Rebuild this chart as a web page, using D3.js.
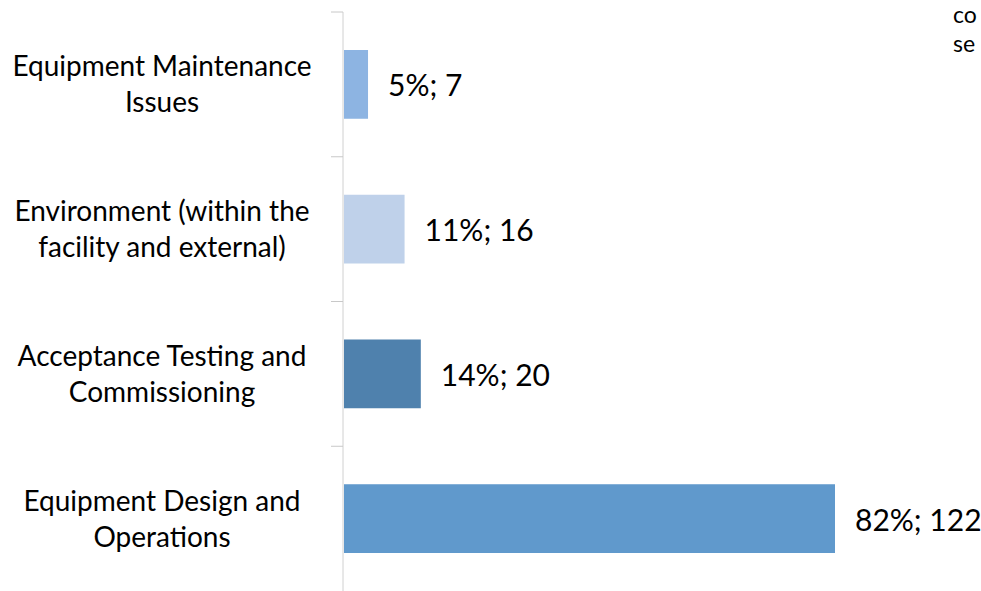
<!DOCTYPE html>
<meta charset="utf-8">
<html>
<head>
<script src="https://cdn.jsdelivr.net/npm/d3@7"></script>
<style>
body { margin:0; background:#fff; }
text { font-family: Lato, 'Open Sans', sans-serif; fill:#000; }
.cat { font-size:28px; }
.val { font-size:30px; }
.corner { font-size:23px; }
</style>
</head>
<body>
<div id="my_dataviz"></div>
<script>

// data
var categories = ["Equipment Maintenance|Issues",
                  "Environment (within the|facility and external)",
                  "Acceptance Testing and|Commissioning",
                  "Equipment Design and|Operations"];
var counts   = [7, 16, 20, 122];
var percents = [5, 11, 14, 82];
var colors   = ["#8DB4E2", "#BFD1EA", "#4F81AD", "#6099CC"];
var corner   = ["co", "se"];

var width = 981, height = 591;
var axisX = 343;

var svg = d3.select("#my_dataviz")
    .append("svg")
    .attr("width", width)
    .attr("height", height);

// y bands, one per category
var y = d3.scaleBand()
    .domain(categories)
    .range([12, 591])
    .paddingInner(0.525)
    .paddingOuter(0.2625);

// x scale (zero sits a little left of the axis line)
var x = d3.scaleLinear()
    .domain([0, 122])
    .range([339.6, 835]);

// bars
svg.selectAll("rect.bar")
    .data(counts)
    .enter()
    .append("rect")
    .attr("class", "bar")
    .attr("x", axisX + 1)
    .attr("y", function(d, i) { return y(categories[i]); })
    .attr("width", function(d) { return x(d) - axisX - 1; })
    .attr("height", y.bandwidth())
    .attr("fill", function(d, i) { return colors[i]; });

// axis line and category separator ticks
var step = y.step();
var ticks = d3.range(categories.length).map(function(i) { return 12 + i * step; });
svg.append("line")
    .attr("x1", axisX).attr("x2", axisX)
    .attr("y1", 12).attr("y2", 591)
    .attr("stroke", "#d0d0d0").attr("stroke-width", 1);
svg.selectAll("line.tick")
    .data(ticks)
    .enter()
    .append("line")
    .attr("class", "tick")
    .attr("x1", axisX - 12).attr("x2", axisX)
    .attr("y1", function(d) { return d; }).attr("y2", function(d) { return d; })
    .attr("stroke", "#c8c8c8").attr("stroke-width", 1);

// category labels (two lines each)
var lab = svg.selectAll("text.cat")
    .data(categories)
    .enter()
    .append("text")
    .attr("class", "cat")
    .attr("text-anchor", "middle");
lab.each(function(d) {
    var lines = d.split("|");
    var cy = y(d) + y.bandwidth() / 2;
    var t = d3.select(this);
    lines.forEach(function(l, j) {
        t.append("tspan")
            .attr("x", 162)
            .attr("y", cy + (j - (lines.length - 1) / 2) * 36 + 10)
            .text(l);
    });
});

// value labels
svg.selectAll("text.val")
    .data(counts)
    .enter()
    .append("text")
    .attr("class", "val")
    .attr("x", function(d) { return x(d) + 20; })
    .attr("y", function(d, i) { return y(categories[i]) + y.bandwidth() / 2 + 12; })
    .text(function(d, i) { return percents[i] + "%; " + d; });

// partly hidden text at top right
svg.selectAll("text.corner")
    .data(corner)
    .enter()
    .append("text")
    .attr("class", "corner")
    .attr("x", 953)
    .attr("y", function(d, i) { return 23 + i * 29; })
    .text(function(d) { return d; });

</script>
</body>
</html>
